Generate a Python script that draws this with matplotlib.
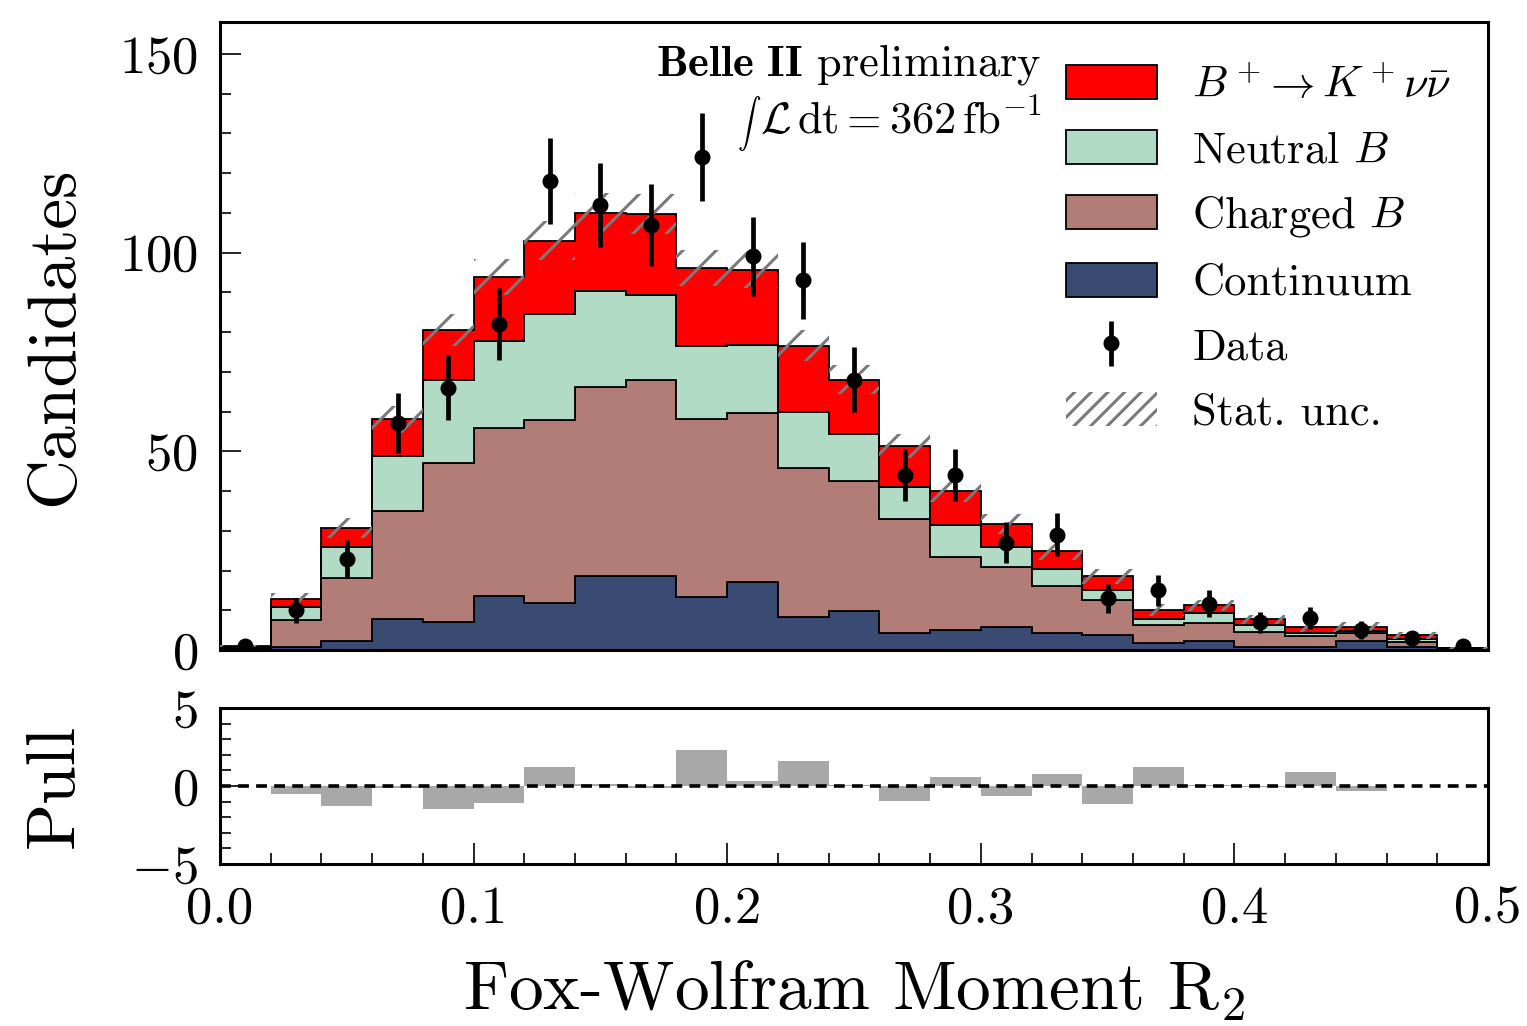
import numpy as np
import matplotlib
matplotlib.use("Agg")
import matplotlib.pyplot as plt
from matplotlib.patches import Patch
from matplotlib.ticker import MultipleLocator, FormatStrFormatter

plt.rcParams['font.family'] = 'serif'
plt.rcParams['font.serif'] = ['cmr10', 'DejaVu Serif']
plt.rcParams['mathtext.fontset'] = 'cm'
plt.rcParams['axes.formatter.use_mathtext'] = True
plt.rcParams['axes.unicode_minus'] = True
plt.rcParams['hatch.linewidth'] = 2.2
plt.rcParams['hatch.color'] = '#7a7a7a'

# ---- data (25 bins of width 0.02 in R2) ----
bin_edges = [0.00, 0.02, 0.04, 0.06, 0.08, 0.10, 0.12, 0.14, 0.16, 0.18, 0.20,
             0.22, 0.24, 0.26, 0.28, 0.30, 0.32, 0.34, 0.36, 0.38, 0.40,
             0.42, 0.44, 0.46, 0.48, 0.50]
continuum = [0.3, 0.8, 2.3, 7.7, 7.1, 13.7, 11.8, 18.6, 18.5, 13.4, 17.0, 8.4, 9.7,
             4.4, 5.0, 5.7, 4.4, 3.8, 1.7, 2.3, 0.8, 0.8, 2.3, 0.8, 0.1]
charged_b = [0.3, 6.7, 15.7, 27.3, 39.9, 42.1, 46.0, 47.6, 49.5, 44.7, 42.6, 37.4, 32.7,
             28.5, 18.5, 15.3, 11.6, 8.8, 4.6, 4.6, 3.8, 2.7, 1.9, 1.3, 0.2]
neutral_b = [0.2, 3.4, 8.0, 13.9, 21.0, 21.9, 26.8, 24.1, 21.4, 18.3, 17.2, 14.2, 12.0,
             8.0, 8.0, 5.0, 4.3, 2.5, 1.4, 2.3, 1.7, 0.9, 0.7, 0.6, 0.1]
signal = [0.2, 1.9, 4.8, 9.1, 12.6, 16.1, 18.4, 19.7, 20.2, 19.7, 18.9, 16.6, 13.6,
          10.5, 8.4, 5.7, 4.5, 3.4, 2.3, 2.0, 1.4, 1.3, 1.0, 1.0, 0.1]
stat_unc = [0.3, 1.5, 2.5, 3.4, 4.0, 4.5, 5.0, 5.0, 5.0, 4.6, 4.6, 4.0, 3.6,
            3.0, 2.7, 2.4, 2.2, 1.8, 1.5, 1.5, 1.2, 1.1, 1.1, 0.9, 0.3]
data = [1, 10, 23, 57, 66, 82, 118, 112, 107, 124, 99, 93, 68,
        44, 44, 27, 29, 13, 15, 11.6, 7, 8, 5, 3, 1]
pull = [0.0, -0.5, -1.3, -0.1, -1.45, -1.1, 1.25, 0.1, -0.15, 2.3, 0.35, 1.6, 0.05,
        -0.95, 0.6, -0.65, 0.75, -1.15, 1.25, 0.05, -0.05, 0.9, -0.35, 0.0, 0.0]

col_signal = '#ff0000'
col_neutral = '#b2dbc5'
col_charged = '#b27c77'
col_cont = '#394a73'

edges = np.array(bin_edges)
centers = 0.5 * (edges[1:] + edges[:-1])
widths = np.diff(edges)

fig = plt.figure(figsize=(15.27, 10.26), dpi=100)
ax = fig.add_axes([0.14407, 0.36647, 0.8304, 0.6121])
axp = fig.add_axes([0.14407, 0.1579, 0.8304, 0.1520])

# stacked histogram
layers = [(continuum, col_cont), (charged_b, col_charged),
          (neutral_b, col_neutral), (signal, col_signal)]
base = np.zeros(len(centers))
for vals, c in layers:
    top = base + np.array(vals)
    ax.stairs(top, edges, baseline=base, fill=True, facecolor=c,
              edgecolor='black', linewidth=1.3, zorder=2)
    base = top
total = base

unc = np.array(stat_unc)
ax.stairs(total + unc, edges, baseline=total - unc, fill=True,
          facecolor='none', edgecolor='#7a7a7a', hatch='/', linewidth=0, zorder=3)

dat = np.array(data, dtype=float)
eb = ax.errorbar(centers, dat, yerr=np.sqrt(dat), fmt='o', color='black',
                 markersize=10.5, elinewidth=3.4, capsize=0, zorder=4)

ax.set_xlim(0, 0.5)
ax.set_ylim(0, 158)
ax.set_ylabel('Candidates', fontsize=50)
ax.yaxis.set_label_coords(-0.106, 0.5)

ax.text(0.648, 0.914, r'$\mathbf{Belle\ II}$ preliminary', transform=ax.transAxes,
        ha='right', va='baseline', fontsize=32)
ax.text(0.648, 0.822, r'$\mathcal{L}\,\mathrm{dt} = 362\,\mathrm{fb}^{-1}$',
        transform=ax.transAxes, ha='right', va='baseline', fontsize=32)
ax.text(0.427, 0.838, r'$\int$', transform=ax.transAxes,
        ha='right', va='center', fontsize=17)

handles = [Patch(facecolor=col_signal, edgecolor='black', linewidth=1.3),
           Patch(facecolor=col_neutral, edgecolor='black', linewidth=1.3),
           Patch(facecolor=col_charged, edgecolor='black', linewidth=1.3),
           Patch(facecolor=col_cont, edgecolor='black', linewidth=1.3),
           eb,
           Patch(facecolor='none', edgecolor='#7a7a7a', hatch='//', linewidth=0)]
labels = [r'$B^+\!\rightarrow K^+\nu\bar{\nu}$', r'Neutral $B$', r'Charged $B$',
          'Continuum', 'Data', 'Stat. unc.']
ax.legend(handles, labels, loc='upper left', bbox_to_anchor=(0.667, 0.931),
          frameon=False, fontsize=32, handlelength=2.05, handleheight=0.8,
          handletextpad=0.8, labelspacing=0.52, borderpad=0, borderaxespad=0)

# pull panel
axp.bar(centers, pull, width=widths, color='#a8a8a8', zorder=2)
axp.axhline(0, color='black', linestyle=(0, (3, 2)), linewidth=2.6, zorder=3)
axp.set_xlim(0, 0.5)
axp.set_ylim(-5, 5)
axp.set_yticks([-5, 0, 5])
axp.set_ylabel('Pull', fontsize=50)
axp.yaxis.set_label_coords(-0.106, 0.5)
axp.set_xlabel(r'Fox-Wolfram Moment R$_2$', fontsize=50, labelpad=18)

for a in (ax, axp):
    a.xaxis.set_major_locator(MultipleLocator(0.1))
    a.xaxis.set_minor_locator(MultipleLocator(0.02))
    a.tick_params(which='both', direction='in', top=False, right=False,
                  labelsize=38, pad=16)
    a.tick_params(which='major', length=15, width=1.2)
    a.tick_params(which='minor', length=8, width=1.2)
    for s in a.spines.values():
        s.set_linewidth(2.2)
ax.yaxis.set_major_locator(MultipleLocator(50))
ax.yaxis.set_minor_locator(MultipleLocator(10))
axp.yaxis.set_minor_locator(MultipleLocator(1))
ax.tick_params(axis='x', labelbottom=False)
axp.xaxis.set_major_formatter(FormatStrFormatter('%.1f'))

fig.savefig('out.png', dpi=100)
